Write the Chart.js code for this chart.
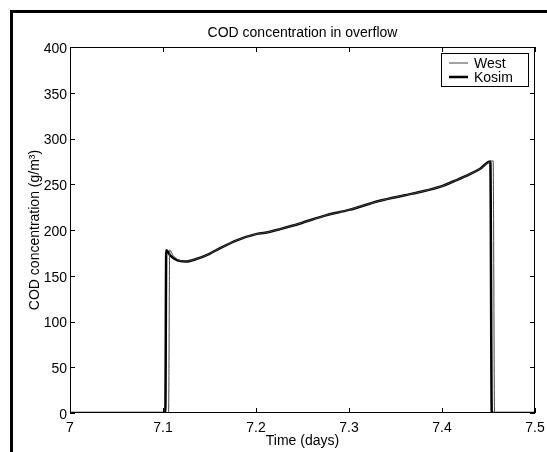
<!DOCTYPE html>
<html>
<head>
<meta charset="utf-8">
<script src="https://cdn.jsdelivr.net/npm/chart.js@4/dist/chart.umd.min.js"></script>
<style>
  html, body { margin: 0; padding: 0; background: #fff; }
  canvas { display: block; }
</style>
</head>
<body>
<canvas id="codChart" width="547" height="452"></canvas>
<script>
// COD concentration in overflow, West vs Kosim simulation
const kosimTime = [7.0, 7.1025, 7.1035, 7.108, 7.115, 7.124, 7.135, 7.15, 7.161, 7.18, 7.2, 7.21, 7.226, 7.25, 7.275, 7.3, 7.333, 7.36, 7.376, 7.4, 7.412, 7.43, 7.441, 7.452, 7.4535, 7.5];
const kosimCod  = [0, 0, 178, 172, 167, 165.5, 168, 174, 180, 189, 195.5, 197, 201, 208, 216, 222, 232, 238, 241.5, 248, 253, 261, 267, 275, 0, 0];

const westTime = [7.0, 7.106, 7.1072, 7.111, 7.117, 7.125, 7.135, 7.15, 7.161, 7.18, 7.2, 7.21, 7.226, 7.25, 7.275, 7.3, 7.333, 7.36, 7.376, 7.4, 7.412, 7.43, 7.441, 7.452, 7.455, 7.4565, 7.5];
const westCod  = [0, 0, 178, 172, 167, 166, 168, 174, 180, 189, 195.5, 197, 201, 208, 216, 222, 232, 238, 241.5, 248, 253, 261, 267, 275, 275.5, 0, 0];

const xTicks = [7, 7.1, 7.2, 7.3, 7.4, 7.5];
const xTickLabels = ['7', '7.1', '7.2', '7.3', '7.4', '7.5'];
const yTicks = [0, 50, 100, 150, 200, 250, 300, 350, 400];

const titleText = 'COD concentration in overflow';

const FONT = '"Liberation Sans", Arial, Helvetica, sans-serif';
Chart.defaults.font.family = FONT;
Chart.defaults.font.size = 14;
Chart.defaults.color = '#000';

const toPoints = (xs, ys) => xs.map((x, i) => ({ x: x, y: ys[i] }));

// outer figure frame (only left and top edges show in the crop)
const framePlugin = {
    id: 'frame',
    beforeDraw(chart) {
        const ctx = chart.ctx;
        ctx.save();
        ctx.fillStyle = '#fff';
        ctx.fillRect(0, 0, chart.width, chart.height);
        ctx.fillStyle = '#000';
        ctx.fillRect(10, 10, chart.width, 3);
        ctx.fillRect(10, 10, 3, chart.height);
        ctx.restore();
    }
};

// title centred over the axes, like matlab does
const axesTitlePlugin = {
    id: 'axesTitle',
    afterDraw(chart) {
        const { ctx, chartArea: a } = chart;
        ctx.save();
        ctx.font = '14px ' + FONT;
        ctx.fillStyle = '#000';
        ctx.textAlign = 'center';
        ctx.textBaseline = 'middle';
        ctx.fillText(titleText, (a.left + a.right) / 2, a.top - 14);
        ctx.restore();
    }
};

// box with inward ticks on all four sides
const boxPlugin = {
    id: 'box',
    afterDatasetsDraw(chart) {
        const { ctx, chartArea: a, scales } = chart;
        const len = 5;
        ctx.save();
        ctx.strokeStyle = '#000';
        ctx.lineWidth = 1;
        ctx.strokeRect(a.left + 0.5, a.top + 0.5, a.right - a.left - 1, a.bottom - a.top - 1);
        ctx.beginPath();
        xTicks.forEach(v => {
            const px = Math.round(scales.x.getPixelForValue(v)) + 0.5;
            ctx.moveTo(px, a.bottom); ctx.lineTo(px, a.bottom - len);
            ctx.moveTo(px, a.top); ctx.lineTo(px, a.top + len);
        });
        yTicks.forEach(v => {
            const py = Math.round(scales.y.getPixelForValue(v)) + 0.5;
            ctx.moveTo(a.left, py); ctx.lineTo(a.left + len, py);
            ctx.moveTo(a.right, py); ctx.lineTo(a.right - len, py);
        });
        ctx.stroke();
        ctx.restore();
    }
};

// legend box in the top right corner of the axes
const legendBoxPlugin = {
    id: 'legendBox',
    afterDraw(chart) {
        const { ctx, chartArea: a } = chart;
        const w = 88, h = 34;
        const x0 = a.right - 6 - w, y0 = a.top + 6;
        ctx.save();
        ctx.fillStyle = '#fff';
        ctx.fillRect(x0, y0, w, h);
        ctx.strokeStyle = '#000';
        ctx.lineWidth = 1;
        ctx.strokeRect(x0 + 0.5, y0 + 0.5, w - 1, h - 1);
        ctx.font = '14px ' + FONT;
        ctx.textBaseline = 'middle';
        ctx.fillStyle = '#000';
        chart.data.datasets.forEach((ds, i) => {
            const y = y0 + 10 + i * 14;
            ctx.beginPath();
            ctx.strokeStyle = ds.borderColor;
            ctx.lineWidth = ds.borderWidth;
            ctx.moveTo(x0 + 8, y);
            ctx.lineTo(x0 + 27, y);
            ctx.stroke();
            ctx.fillText(ds.label, x0 + 33, y + 1);
        });
        ctx.restore();
    }
};

new Chart(document.getElementById('codChart'), {
    type: 'line',
    data: {
        datasets: [
            {
                label: 'West',
                data: toPoints(westTime, westCod),
                borderColor: '#444',
                borderWidth: 1,
                pointRadius: 0,
                cubicInterpolationMode: 'monotone'
            },
            {
                label: 'Kosim',
                data: toPoints(kosimTime, kosimCod),
                borderColor: '#000',
                borderWidth: 2.5,
                pointRadius: 0,
                cubicInterpolationMode: 'monotone'
            }
        ]
    },
    options: {
        responsive: false,
        animation: false,
        devicePixelRatio: 1,
        layout: { padding: { left: 0, right: 12, top: 47, bottom: 0 } },
        plugins: {
            legend: { display: false },
            tooltip: { enabled: false },
            title: { display: false }
        },
        scales: {
            x: {
                type: 'linear',
                min: 7,
                max: 7.5,
                afterFit: s => { s.height = 39; s.paddingLeft = 0; s.paddingRight = 0; },
                afterBuildTicks: s => { s.ticks = xTicks.map(v => ({ value: v })); },
                ticks: {
                    padding: 7,
                    maxRotation: 0,
                    callback: (v) => xTickLabels[xTicks.indexOf(Math.round(v * 10) / 10)]
                },
                grid: { display: false, drawTicks: false },
                border: { display: false },
                title: {
                    display: true,
                    text: 'Time (days)',
                    padding: { top: 0, bottom: 2 }
                }
            },
            y: {
                min: 0,
                max: 400,
                afterFit: s => { s.width = 70; s.paddingTop = 0; s.paddingBottom = 0; },
                afterBuildTicks: s => { s.ticks = yTicks.map(v => ({ value: v })); },
                ticks: { padding: 3, labelOffset: 2 },
                grid: { display: false, drawTicks: false },
                border: { display: false },
                title: {
                    display: true,
                    text: 'COD concentration (g/m³)',
                    padding: { top: 27, bottom: 0 }
                }
            }
        }
    },
    plugins: [framePlugin, boxPlugin, axesTitlePlugin, legendBoxPlugin]
});
</script>
</body>
</html>
